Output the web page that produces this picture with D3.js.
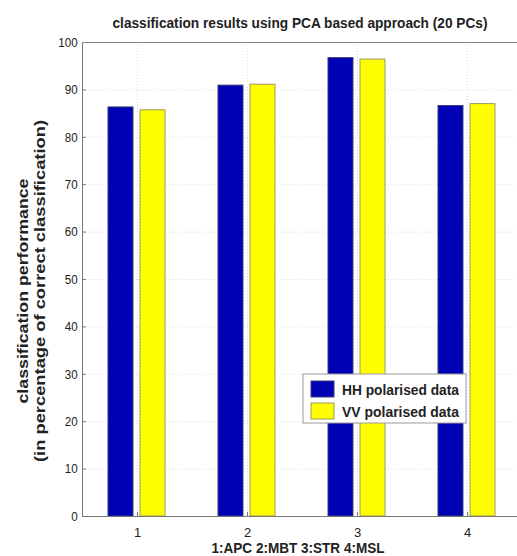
<!DOCTYPE html>
<html lang="en">
  <head>
    <meta charset="UTF-8" />
    <title>classification results</title>
    <script src="https://cdn.jsdelivr.net/npm/d3@7/dist/d3.min.js"></script>
    <style>
      body { margin: 0; background: #fff; }
      svg { display: block; font-family: "Liberation Sans", Arial, sans-serif; }
    </style>
  </head>
  <body>
    <div id="wrapper"></div>
    <script>
      const groups = [1, 2, 3, 4];
      const seriesNames = ["HH polarised data", "VV polarised data"];
      const hhValues = [86.3, 90.9, 96.7, 86.6];
      const vvValues = [85.7, 91.1, 96.4, 87.0];
      const yTicks = [0, 10, 20, 30, 40, 50, 60, 70, 80, 90, 100];

      const colors = ["#0000b4", "#ffff00"];

      const dimensions = {
        width: 517,
        height: 556,
        margin: { top: 42, right: -5, bottom: 40, left: 82 },
      };
      dimensions.boundedWidth =
        dimensions.width - dimensions.margin.left - dimensions.margin.right;
      dimensions.boundedHeight =
        dimensions.height - dimensions.margin.top - dimensions.margin.bottom;

      const data = groups.map((g, i) => ({
        group: g,
        values: [hhValues[i], vvValues[i]],
      }));

      const svg = d3
        .select("#wrapper")
        .append("svg")
        .attr("width", dimensions.width)
        .attr("height", dimensions.height);

      const bounds = svg
        .append("g")
        .attr(
          "transform",
          `translate(${dimensions.margin.left},${dimensions.margin.top})`
        );

      const xScale = d3
        .scaleLinear()
        .domain([0.5, 4.5])
        .range([0, dimensions.boundedWidth]);

      const inner = d3
        .scaleBand()
        .domain([0, 1])
        .range([-29, 28])
        .paddingInner(0.22)
        .paddingOuter(0);

      const yScale = d3
        .scaleLinear()
        .domain([0, 100])
        .range([dimensions.boundedHeight, 0]);

      // grid
      const grid = bounds.append("g");
      grid
        .selectAll(".hgrid")
        .data(yTicks.slice(1, -1))
        .join("line")
        .attr("x1", 0)
        .attr("x2", dimensions.boundedWidth)
        .attr("y1", (d) => yScale(d) + 0.5)
        .attr("y2", (d) => yScale(d) + 0.5)
        .attr("stroke", "#dcdcdc")
        .attr("stroke-dasharray", "1,2");
      grid
        .selectAll(".vgrid")
        .data(groups)
        .join("line")
        .attr("x1", (d) => xScale(d) + 0.5)
        .attr("x2", (d) => xScale(d) + 0.5)
        .attr("y1", 0)
        .attr("y2", dimensions.boundedHeight)
        .attr("stroke", "#dcdcdc")
        .attr("stroke-dasharray", "1,2");

      // bars
      const groupG = bounds
        .selectAll(".grp")
        .data(data)
        .join("g")
        .attr("transform", (d) => `translate(${xScale(d.group)},0)`);
      groupG
        .selectAll("rect")
        .data((d) => d.values.map((v, i) => ({ v, i })))
        .join("rect")
        .attr("x", (d) => inner(d.i))
        .attr("width", inner.bandwidth())
        .attr("y", (d) => yScale(d.v))
        .attr("height", (d) => yScale(0) - yScale(d.v))
        .attr("fill", (d) => colors[d.i])
        .attr("stroke", (d) => (d.i === 0 ? "#3a3a7a" : "#9a9a60"))
        .attr("stroke-width", 1);

      // axes
      const yAxisGenerator = d3
        .axisLeft(yScale)
        .tickValues(yTicks)
        .tickSize(-4)
        .tickPadding(6);
      const yAxis = bounds.append("g").call(yAxisGenerator);
      yAxis.select(".domain").attr("stroke", "#777");
      yAxis.selectAll(".tick line").attr("stroke", "#777");
      yAxis
        .selectAll(".tick text")
        .attr("x", -5)
        .attr("font-size", 13.5)
        .attr("fill", "#222")
        .attr("transform", "scale(0.86,1)")
        .attr("text-anchor", "end");

      const xAxisGenerator = d3
        .axisBottom(xScale)
        .tickValues(groups)
        .tickSize(-4)
        .tickPadding(12)
        .tickFormat(d3.format("d"));
      const xAxis = bounds
        .append("g")
        .attr("transform", `translate(0,${dimensions.boundedHeight})`)
        .call(xAxisGenerator);
      xAxis.select(".domain").attr("stroke", "#777");
      xAxis.selectAll(".tick line").attr("stroke", "#777");
      xAxis
        .selectAll(".tick text")
        .attr("font-size", 13)
        .attr("fill", "#222");

      // top border
      bounds
        .append("line")
        .attr("x1", 0)
        .attr("x2", dimensions.boundedWidth)
        .attr("y1", 0.5)
        .attr("y2", 0.5)
        .attr("stroke", "#888");

      // title
      svg
        .append("text")
        .attr("x", 300)
        .attr("y", 28)
        .attr("text-anchor", "middle")
        .attr("font-size", 14.5)
        .attr("font-weight", "bold")
        .attr("fill", "#222")
        .attr("textLength", 375)
        .attr("lengthAdjust", "spacingAndGlyphs")
        .text("classification results using PCA based approach (20 PCs)");

      // x label
      svg
        .append("text")
        .attr("x", 298)
        .attr("y", 553)
        .attr("text-anchor", "middle")
        .attr("font-size", 14.5)
        .attr("font-weight", "bold")
        .attr("fill", "#222")
        .attr("textLength", 173)
        .attr("lengthAdjust", "spacingAndGlyphs")
        .text("1:APC 2:MBT 3:STR 4:MSL");

      // y label
      const yLabel = svg
        .append("g")
        .attr("transform", "translate(0,291) rotate(-90)");
      yLabel
        .append("text")
        .attr("x", 0)
        .attr("y", 28)
        .attr("text-anchor", "middle")
        .attr("font-size", 14.5)
        .attr("font-weight", "bold")
        .attr("fill", "#222")
        .attr("textLength", 225)
        .attr("lengthAdjust", "spacingAndGlyphs")
        .text("classification performance");
      yLabel
        .append("text")
        .attr("x", 0)
        .attr("y", 45)
        .attr("text-anchor", "middle")
        .attr("font-size", 14.5)
        .attr("font-weight", "bold")
        .attr("fill", "#222")
        .attr("textLength", 342)
        .attr("lengthAdjust", "spacingAndGlyphs")
        .text("(in percentage of correct classification)");

      // legend
      const legend = svg.append("g").attr("transform", "translate(303,374)");
      legend
        .append("rect")
        .attr("width", 163)
        .attr("height", 49)
        .attr("fill", "#fff")
        .attr("stroke", "#999");
      const items = legend
        .selectAll(".item")
        .data(seriesNames)
        .join("g")
        .attr("transform", (d, i) => `translate(8,${7 + i * 22})`);
      items
        .append("rect")
        .attr("width", 23)
        .attr("height", 16)
        .attr("fill", (d, i) => colors[i])
        .attr("stroke", (d, i) => (i === 0 ? "#3a3a7a" : "#9a9a60"));
      items
        .append("text")
        .attr("x", 31)
        .attr("y", 14)
        .attr("font-size", 14.5)
        .attr("font-weight", "bold")
        .attr("fill", "#222")
        .attr("textLength", 117)
        .attr("lengthAdjust", "spacingAndGlyphs")
        .text((d) => d);
    </script>
  </body>
</html>
